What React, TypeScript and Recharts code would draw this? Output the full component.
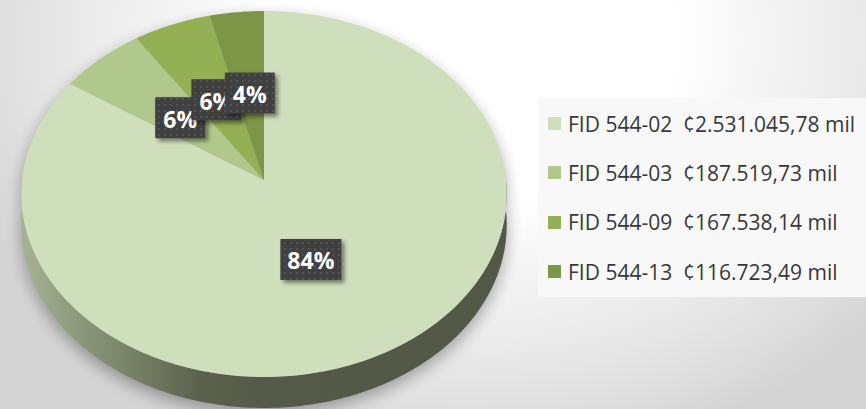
import React from 'react';
import { PieChart, Pie, Legend } from 'recharts';

const categories = ['FID 544-02', 'FID 544-03', 'FID 544-09', 'FID 544-13'];
const amounts = [2531045.78, 187519.73, 167538.14, 116723.49];
const amountLabels = ['¢2.531.045,78 mil', '¢187.519,73 mil', '¢167.538,14 mil', '¢116.723,49 mil'];
const colors = ['#cfdebb', '#b0c88b', '#94b055', '#7c9546'];

const data = categories.map((name, i) => ({ name, value: amounts[i], fill: colors[i] }));

const W = 866;
const H = 409;
const RAD = Math.PI / 180;
const PERSP = 0.0765; // perspective strength
const KY = 181.9 / 242; // vertical squash of the tilted disc
const DEPTH = 31;
const FONT = '"Open Sans", "DejaVu Sans", sans-serif';

function proj(cx: number, cy: number, r: number, t: number, f = 1): [number, number] {
  const a = t * RAD;
  const x = f * Math.cos(a);
  const z = f * Math.sin(a);
  const s = 1 / (1 + PERSP * z);
  return [cx + r * x * s, cy - r * KY * z * s];
}

function rimPts(cx: number, cy: number, r: number, t0: number, t1: number, dy = 0): string[] {
  const n = Math.max(2, Math.ceil(Math.abs(t1 - t0)));
  const pts: string[] = [];
  for (let i = 0; i <= n; i++) {
    const t = t0 + ((t1 - t0) * i) / n;
    const [x, y] = proj(cx, cy, r, t);
    pts.push(`${x.toFixed(2)},${(y + dy).toFixed(2)}`);
  }
  return pts;
}

function sidePath(cx: number, cy: number, r: number, lo: number, hi: number): string {
  const top = rimPts(cx, cy, r, hi, lo);
  const bottom = rimPts(cx, cy, r, lo, hi, DEPTH);
  return 'M' + top.join(' L') + ' L' + bottom.join(' L') + ' Z';
}

const TiltedSector = (props: any) => {
  const { cx, cy, outerRadius, startAngle, endAngle, fill } = props;
  const r = outerRadius;
  const lo = Math.min(startAngle, endAngle);
  const hi = Math.max(startAngle, endAngle);
  const face = 'M' + cx + ',' + cy + ' L' + rimPts(cx, cy, r, startAngle, endAngle).join(' L') + ' Z';
  const sides: [number, number][] = [];
  for (let k = -3; k <= 2; k++) {
    const a0 = -180 + 360 * k;
    const a1 = 360 * k;
    const s = Math.max(lo, a0);
    const e = Math.min(hi, a1);
    if (e > s) sides.push([s, e]);
  }
  const isFirst = Math.abs(startAngle - 90) < 1e-6;
  const silhouette =
    'M' + rimPts(cx, cy, r, 0, 180).join(' L') + ' L' + rimPts(cx, cy, r, 180, 360, DEPTH).join(' L') + ' Z';
  return (
    <g>
      <defs>
        <linearGradient id="sideGrad" x1={cx - r} x2={cx + r} y1={0} y2={0} gradientUnits="userSpaceOnUse">
          <stop offset="0" stopColor="#a6b293" />
          <stop offset="0.2" stopColor="#7c876b" />
          <stop offset="0.37" stopColor="#5c614d" />
          <stop offset="0.5" stopColor="#555947" />
          <stop offset="1" stopColor="#535746" />
        </linearGradient>
        <filter id="pieShadow" x="-20%" y="-20%" width="140%" height="140%">
          <feGaussianBlur stdDeviation="8" />
        </filter>
      </defs>
      {isFirst && (
        <path d={silhouette} transform="translate(0,6)" fill="#000" opacity={0.32} filter="url(#pieShadow)" />
      )}
      {sides.map(([s, e], i) => (
        <path key={i} d={sidePath(cx, cy, r, s, e)} fill="url(#sideGrad)" stroke="none" />
      ))}
      <path d={face} fill={fill} stroke="none" />
    </g>
  );
};

const renderLabel = (props: any) => {
  const { cx, cy, midAngle, outerRadius, percent } = props;
  const big = percent > 0.5;
  const [x0, y0] = proj(cx, cy, outerRadius, midAngle, big ? 0.48 : 0.5);
  const x = big ? x0 - 10 : x0;
  const y = y0;
  const text = `${Math.round(percent * 100)}%`;
  const w = 28 + 11 * text.length;
  const h = 41;
  return (
    <g>
      <defs>
        <pattern id="dots" width="6" height="6" patternUnits="userSpaceOnUse">
          <rect width="6" height="6" fill="#404040" />
          <rect x="2" y="2" width="2" height="2" fill="#535353" />
        </pattern>
        <filter id="lblShadow" x="-30%" y="-30%" width="160%" height="160%">
          <feDropShadow dx="3" dy="3" stdDeviation="2" floodColor="#000" floodOpacity="0.45" />
        </filter>
      </defs>
      <rect x={x - w / 2} y={y - h / 2} width={w} height={h} fill="url(#dots)" filter="url(#lblShadow)" />
      <text
        x={x}
        y={y + 1}
        textAnchor="middle"
        dominantBaseline="central"
        fill="#ffffff"
        fontFamily={FONT}
        fontWeight={700}
        fontSize={23}
      >
        {text}
      </text>
    </g>
  );
};

const renderLegend = (props: any) => {
  const payload = props.payload || [];
  return (
    <div style={{ width: 328, height: 199, background: '#f8f8f8', paddingTop: 1, boxSizing: 'border-box' }}>
      {payload.map((entry: any, i: number) => (
        <div
          key={i}
          style={{
            height: 49.3,
            display: 'flex',
            alignItems: 'center',
            fontFamily: FONT,
            fontSize: 21,
            color: '#383838',
            whiteSpace: 'nowrap',
            letterSpacing: 0,
          }}
        >
          <span style={{ display: 'inline-block', width: 13, height: 13, marginLeft: 10, marginRight: 7, background: colors[i] }} />
          <span style={{ display: 'inline-block', width: 115 }}>{entry.value}</span>
          <span>{amountLabels[i]}</span>
        </div>
      ))}
    </div>
  );
};

export default function App() {
  return (
    <div
      style={{
        width: W,
        height: H,
        position: 'relative',
        overflow: 'hidden',
        background:
          'radial-gradient(ellipse 540px 430px at 470px 40px, #ffffff 0%, #ffffff 38%, #e6e6e6 78%, #d4d4d4 100%)',
      }}
    >
      <style>{`body{margin:0}`}</style>
      <PieChart width={W} height={H} margin={{ top: 0, right: 0, bottom: 0, left: 0 }}>
        <Pie
          data={data}
          dataKey="value"
          nameKey="name"
          cx={264}
          cy={180}
          outerRadius={242}
          startAngle={90}
          endAngle={-270}
          stroke="none"
          shape={TiltedSector}
          activeShape={TiltedSector}
          inactiveShape={TiltedSector}
          label={renderLabel}
          labelLine={false}
          isAnimationActive={false}
        />
        <Legend
          layout="vertical"
          align="right"
          verticalAlign="top"
          content={renderLegend}
          wrapperStyle={{ position: 'absolute', left: 538, top: 98, width: 328, height: 199 }}
        />
      </PieChart>
    </div>
  );
}
